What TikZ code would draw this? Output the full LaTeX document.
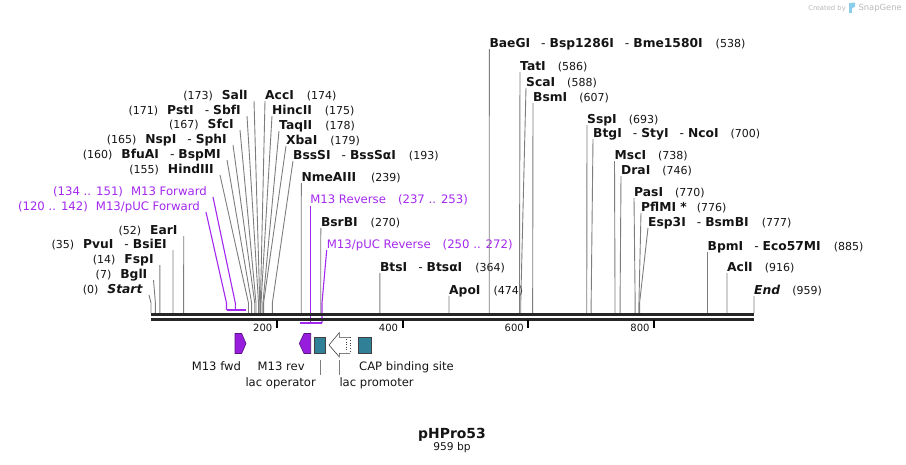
\documentclass[tikz,border=0pt]{standalone}
\usepackage{fontspec}
\setmainfont{DejaVu Sans}
\usetikzlibrary{calc,positioning}
\definecolor{cutgray}{RGB}{125,125,125}
\definecolor{primerpurple}{RGB}{163,40,238}
\definecolor{arrowpurple}{RGB}{150,30,220}
\definecolor{featteal}{RGB}{48,128,152}
\definecolor{textblack}{RGB}{20,20,20}
\definecolor{logogray}{RGB}{185,185,185}
\definecolor{logoblue}{RGB}{140,205,235}
\tikzstyle{cutline} = [draw=cutgray, line width=0.9pt]
\tikzstyle{primerline} = [draw=primerpurple, line width=1.1pt]
\tikzstyle{primerbar} = [draw=primerpurple, line width=2pt]
\tikzstyle{backbone} = [draw=black!85, line width=2.4pt]
\tikzstyle{tickmark} = [draw=black, line width=2pt]
\tikzstyle{enzlabel} = [inner sep=0pt, text=textblack, font=\fontsize{12.3}{14}\selectfont\bfseries]
\tikzstyle{primerlabel} = [inner sep=0pt, text=primerpurple, font=\fontsize{11.7}{14}\selectfont]
\tikzstyle{ticklabel} = [inner sep=0pt, text=textblack, font=\fontsize{10}{12}\selectfont]
\tikzstyle{featlabel} = [inner sep=0pt, text=textblack, font=\fontsize{11.6}{14}\selectfont]
\tikzstyle{featbox} = [draw=black!75, fill=featteal, line width=0.6pt, inner sep=0pt, minimum width=11.7pt, minimum height=16pt]
\tikzstyle{featarrow} = [draw=arrowpurple!60!black, fill=arrowpurple, line width=0.6pt]
\tikzstyle{featlink} = [draw=cutgray, line width=0.8pt]
\def\site(#1){{\mdseries\fontsize{11}{13}\selectfont(#1)}}
\def\orsep{\hspace{11pt}{\mdseries-}\hspace{4pt}}
% enzyme with label left of its line: id, bp, line top x, line top y, text
\newcommand{\cutleft}[5]{%
  \coordinate (#1top) at (#3,#4);
  \coordinate (#1bend) at ({151+#2*0.62878},303);
  \coordinate (#1cut) at ({151+#2*0.62878},313);
  \node[enzlabel, anchor=base east] (#1) at ($(#1top)+(-6,-2)$) {#5};
  \draw[cutline] (#1top) -- (#1bend) -- (#1cut);
}
% enzyme with label right of its line
\newcommand{\cutright}[5]{%
  \coordinate (#1top) at (#3,#4);
  \coordinate (#1bend) at ({151+#2*0.62878},303);
  \coordinate (#1cut) at ({151+#2*0.62878},313);
  \node[enzlabel, anchor=base west] (#1) at ($(#1top)+(0,-2)$) {#5};
  \draw[cutline] (#1top) -- (#1bend) -- (#1cut);
}
\begin{document}
\begin{tikzpicture}[x=1pt,y=-1pt]
\useasboundingbox (0,0) rectangle (906,464);

% logo
\node[anchor=base east, inner sep=0pt, text=logogray, font=\fontsize{8.4}{10}\selectfont] (snap) at (902,10.5) {SnapGene};
\fill[logoblue] (849,2.5) rectangle (852,12.5);
\fill[logoblue] (852,2.5) -- (855,2.5) -- (855,6.5) -- (852,8.5) -- cycle;
\node[anchor=base east, inner sep=0pt, text=logogray, font=\fontsize{6.8}{8}\selectfont] (created) at (846,10.5) {Created by};

% primers
\coordinate (mfwdtop) at (213,197);
\node[primerlabel, anchor=base east] (mfwd) at ($(mfwdtop)+(-6,-1.5)$) {(134 .. 151)\hspace{8pt}M13 Forward};
\draw[primerline] (mfwdtop) -- (235.3,303) -- (235.3,310);
\coordinate (pfwdtop) at (206,212);
\node[primerlabel, anchor=base east] (pfwd) at ($(pfwdtop)+(-6,-1.5)$) {(120 .. 142)\hspace{8pt}M13/pUC Forward};
\draw[primerline] (pfwdtop) -- (226.5,303) -- (226.5,310);
\draw[primerbar] (226.5,310) -- (245.9,310);
\coordinate (mrevtop) at (310.1,206);
\node[primerlabel, anchor=base west] (mrev) at ($(mrevtop)+(0,-2.5)$) {M13 Reverse\hspace{12pt}(237 .. 253)};
\draw[primerline] (mrevtop) -- (310.1,323);
\coordinate (prevtop) at (326.7,250);
\node[primerlabel, anchor=base west] (prev) at ($(prevtop)+(0,-2)$) {M13/pUC Reverse\hspace{12pt}(250 .. 272)};
\draw[primerline] (prevtop) -- (322,303) -- (322,323);
\draw[primerbar] (300,323) -- (322,323);

% enzymes
\cutleft{start}{0}{149}{295}{\site(0)\hspace{9pt}\textit{Start}}
\cutleft{bgl}{7}{153.5}{280}{\site(7)\hspace{9pt}BglI}
\cutleft{fsp}{14}{159.8}{265}{\site(14)\hspace{9pt}FspI}
\cutleft{pvu}{35}{173}{250}{\site(35)\hspace{9pt}PvuI\orsep BsiEI}
\cutleft{ear}{52}{183.7}{236}{\site(52)\hspace{9pt}EarI}
\cutleft{hind}{155}{220}{175}{\site(155)\hspace{9pt}HindIII}
\cutleft{bfu}{160}{227}{160}{\site(160)\hspace{9pt}BfuAI\orsep BspMI}
\cutleft{nsp}{165}{233}{145}{\site(165)\hspace{9pt}NspI\orsep SphI}
\cutleft{sfc}{167}{240}{130}{\site(167)\hspace{9pt}SfcI}
\cutleft{pst}{171}{247}{116}{\site(171)\hspace{9pt}PstI\orsep SbfI}
\cutleft{sal}{173}{254}{101}{\site(173)\hspace{9pt}SalI}
\cutright{acc}{174}{265}{101}{AccI\hspace{13pt}\site(174)}
\cutright{hinc}{175}{272}{116}{HincII\hspace{13pt}\site(175)}
\cutright{taq}{178}{279}{131}{TaqII\hspace{13pt}\site(178)}
\cutright{xba}{179}{286}{146}{XbaI\hspace{13pt}\site(179)}
\cutright{bss}{193}{293}{161}{BssSI\orsep BssSαI\hspace{13pt}\site(193)}
\cutright{nme}{239}{301.3}{183}{NmeAIII\hspace{15pt}\site(239)}
\cutright{bsr}{270}{320.8}{228}{BsrBI\hspace{13pt}\site(270)}
\cutright{bts}{364}{379.9}{273}{BtsI\orsep BtsαI\hspace{13pt}\site(364)}
\cutright{apo}{474}{449}{296}{ApoI\hspace{13pt}\site(474)}
\cutright{bae}{538}{489.3}{49}{BaeGI\orsep Bsp1286I\orsep Bme1580I\hspace{13pt}\site(538)}
\cutright{tat}{586}{520}{72}{TatI\hspace{12pt}\site(586)}
\cutright{sca}{588}{526}{88}{ScaI\hspace{12pt}\site(588)}
\cutright{bsm}{607}{533}{103}{BsmI\hspace{12pt}\site(607)}
\cutright{ssp}{693}{587}{125}{SspI\hspace{12pt}\site(693)}
\cutright{btg}{700}{593}{139}{BtgI\orsep StyI\orsep NcoI\hspace{12pt}\site(700)}
\cutright{msc}{738}{614.5}{161}{MscI\hspace{12pt}\site(738)}
\cutright{dra}{746}{621}{176}{DraI\hspace{12pt}\site(746)}
\cutright{pas}{770}{634}{198}{PasI\hspace{12pt}\site(770)}
\cutright{pfl}{776}{641}{213}{PflMI *\hspace{10pt}\site(776)}
\cutright{esp}{777}{648}{228}{Esp3I\orsep BsmBI\hspace{13pt}\site(777)}
\cutright{bpm}{885}{707.5}{252}{BpmI\orsep Eco57MI\hspace{13pt}\site(885)}
\cutright{acl}{916}{727}{273}{AclI\hspace{12pt}\site(916)}
\cutright{end}{959}{754}{296}{\textit{End}\hspace{12pt}\site(959)}

% backbone and ticks
\draw[backbone] (151,314.5) -- (754,314.5);
\draw[backbone] (151,319.5) -- (754,319.5);
\draw[tickmark] (276.8,320) -- (276.8,327.5);
\node[ticklabel, anchor=base east] (t200) at (272.5,331.5) {200};
\draw[tickmark] (402.5,320) -- (402.5,327.5);
\node[ticklabel, anchor=base east] (t400) at (398.2,331.5) {400};
\draw[tickmark] (528.3,320) -- (528.3,327.5);
\node[ticklabel, anchor=base east] (t600) at (524,331.5) {600};
\draw[tickmark] (654,320) -- (654,327.5);
\node[ticklabel, anchor=base east] (t800) at (649.7,331.5) {800};

% features
\draw[featarrow] (235,333.5) -- (241.7,333.5) -- (246,343.5) -- (241.7,353.5) -- (235,353.5) -- cycle;
\draw[featarrow] (310.7,333.5) -- (304,333.5) -- (299.3,343.5) -- (304,353.5) -- (310.7,353.5) -- cycle;
\node[featbox] (laco) at (319.8,345.3) {};
\node[featbox, minimum width=12.7pt] (cap) at (364.6,345.3) {};
\draw[draw=black!75, fill=white, line width=0.6pt] (350,337.3) -- (339.3,337.3) -- (339.3,332.7) -- (329,345) -- (339.3,356.9) -- (339.3,353.3) -- (350,353.3);
\draw[draw=black!75, line width=0.7pt, dotted] (350,337.3) -- (350,353.3);
\draw[draw=black!75, line width=0.6pt, dotted] (346.5,339) -- (346.5,352);

\node[featlabel, anchor=base] (fwdname) at (216.4,370) {M13 fwd};
\node[featlabel, anchor=base] (revname) at (281.2,370) {M13 rev};
\node[featlabel, anchor=base west] (capname) at (359,370) {CAP binding site};
\node[featlabel, anchor=base east] (laconame) at (316,386) {lac operator};
\node[featlabel, anchor=base west] (lacpname) at (339.3,386) {lac promoter};
\coordinate (lacotop) at (320,360);
\coordinate (lacobot) at (320,375);
\draw[featlink] (lacotop) -- (lacobot);
\coordinate (lacptop) at (339.5,360);
\coordinate (lacpbot) at (339.5,375);
\draw[featlink] (lacptop) -- (lacpbot);

% title
\node[anchor=base, inner sep=0pt, text=textblack, font=\fontsize{13.9}{16}\selectfont\bfseries] (title) at (452,438.5) {pHPro53};
\node[anchor=base, inner sep=0pt, text=textblack, font=\fontsize{10.7}{13}\selectfont] (bplen) at (452,450.5) {959 bp};
\end{tikzpicture}
\end{document}
